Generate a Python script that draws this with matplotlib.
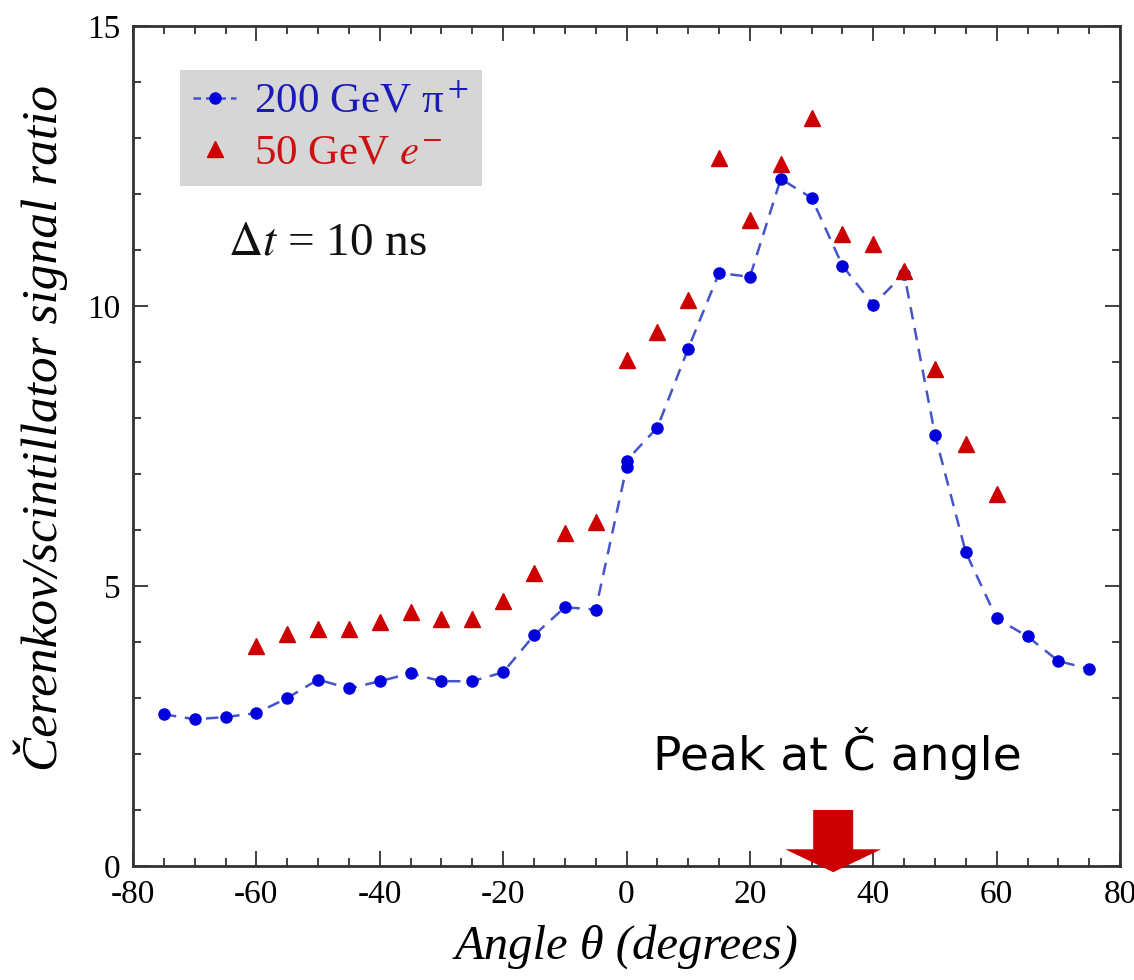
import numpy as np
import matplotlib.pyplot as plt
from matplotlib.lines import Line2D
from matplotlib.ticker import MultipleLocator

plt.rcParams['font.family'] = ['Liberation Serif', 'DejaVu Serif']
plt.rcParams['mathtext.fontset'] = 'stix'
plt.rcParams['axes.unicode_minus'] = False

# 200 GeV pi+ (two readings at 0 deg)
pi_angle = [-75, -70, -65, -60, -55, -50, -45, -40, -35, -30, -25, -20, -15, -10, -5,
            0, 0, 5, 10, 15, 20, 25, 30, 35, 40, 45, 50, 55, 60, 65, 70, 75]
pi_ratio = [2.71, 2.62, 2.66, 2.73, 3.00, 3.33, 3.17, 3.30, 3.44, 3.30, 3.30, 3.46, 4.12, 4.62, 4.58,
            7.12, 7.24, 7.83, 9.24, 10.59, 10.52, 12.27, 11.93, 10.72, 10.02, 10.58, 7.70, 5.60, 4.42, 4.10, 3.66, 3.52]

# 50 GeV e-
e_angle = [-60, -55, -50, -45, -40, -35, -30, -25, -20, -15, -10, -5,
           0, 5, 10, 15, 20, 25, 30, 35, 40, 45, 50, 55, 60]
e_ratio = [3.92, 4.14, 4.24, 4.24, 4.35, 4.53, 4.41, 4.41, 4.74, 5.24, 5.94, 6.14,
           9.04, 9.54, 10.11, 12.64, 11.54, 12.54, 13.36, 11.29, 11.11, 10.63, 8.88, 7.53, 6.65]

peak_angle = 33.5

fig = plt.figure(figsize=(11.34, 9.8), dpi=100)
ax = fig.add_axes([0.1173, 0.1163, 0.8704, 0.8572])

ax.plot(pi_angle, pi_ratio, linestyle=(0, (5, 3.5)), color='#4455cc', linewidth=1.8, zorder=2)
ax.plot(pi_angle, pi_ratio, linestyle='none', marker='o', markersize=8,
        color='#0000dd', zorder=3)
ax.plot(e_angle, e_ratio, linestyle='none', marker='^', markersize=11,
        color='#cc0000', zorder=3)

ax.set_xlim(-80, 80)
ax.set_ylim(0, 15)
ax.set_xticks(np.arange(-80, 81, 20))
ax.set_yticks([0, 5, 10, 15])
ax.xaxis.set_minor_locator(MultipleLocator(5))
ax.yaxis.set_minor_locator(MultipleLocator(1))
ax.tick_params(which='both', direction='in', top=True, right=True, colors='#333333',
               labelcolor='black', labelsize=24, width=1.3)
ax.tick_params(which='major', length=11)
ax.tick_params(which='minor', length=6)
ax.tick_params(axis='x', which='major', pad=10)
ax.tick_params(axis='y', which='major', pad=9)
for sp in ax.spines.values():
    sp.set_linewidth(2)
    sp.set_color('#333333')

ax.set_xlabel('Angle θ (degrees)', fontsize=35, style='italic', labelpad=10)
ax.set_ylabel('Čerenkov/scintillator signal ratio', fontsize=37, style='italic')
ax.yaxis.set_label_coords(-0.066, 0.522)

handles = [
    Line2D([], [], linestyle=(0, (3, 2)), color='#4455cc', marker='o', markersize=8,
           markerfacecolor='#0000dd', markeredgecolor='#0000dd', linewidth=1.8),
    Line2D([], [], linestyle='none', marker='^', markersize=11, color='#cc0000'),
]
leg = ax.legend(handles, ['200 GeV π$^+$', '50 GeV $e^{-}$'], loc='upper left',
                bbox_to_anchor=(0.048, 0.948), borderaxespad=0, fontsize=31,
                frameon=True, fancybox=False, facecolor='#d6d6d6', edgecolor='none',
                framealpha=1, handlelength=1.0, handletextpad=0.4, borderpad=0.3,
                labelspacing=0.28)
for txt, c in zip(leg.get_texts(), ['#1a1ab8', '#cc1111']):
    txt.set_color(c)

ax.text(0.096, 0.728, r'$\Delta t$ = 10 ns', transform=ax.transAxes, fontsize=34,
        color='#111111')

ax.text(0.527, 0.114, 'Peak at Č angle', transform=ax.transAxes, fontsize=34,
        family='DejaVu Sans', color='black')

# downward arrow marking the peak
ax.annotate('', xy=(peak_angle, -0.16), xytext=(peak_angle, 1.05),
            arrowprops=dict(arrowstyle='simple,head_length=0.55,head_width=2.3,tail_width=0.96',
                            mutation_scale=30, facecolor='#cc0000', edgecolor='none'),
            annotation_clip=False, zorder=5)

fig.savefig('out.png', dpi=100)
